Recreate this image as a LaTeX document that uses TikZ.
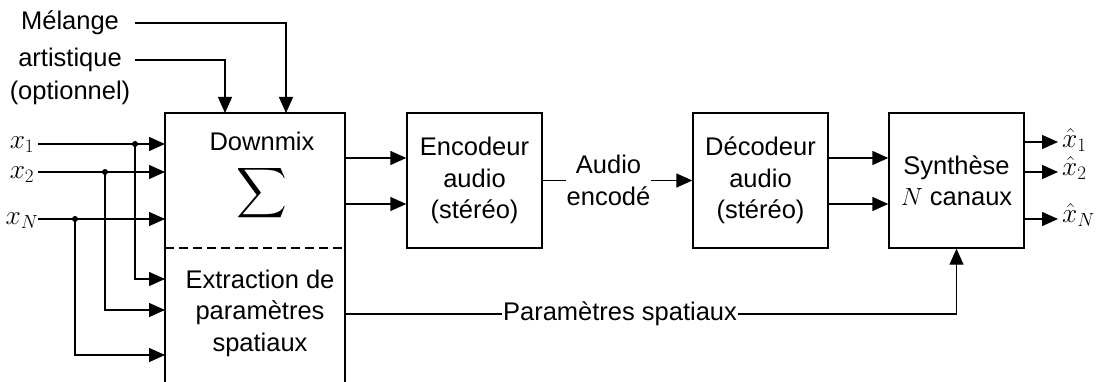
\documentclass[tikz,border=0pt]{standalone}
\usepackage{graphicx}
\usepackage{fontspec}
\setmainfont{Liberation Sans}
\usetikzlibrary{arrows.meta}
\begin{document}
\begin{tikzpicture}[x=1pt,y=-1pt,
  every node/.style={font=\fontsize{25.5}{31.5}\selectfont, inner sep=0pt},
  line/.style={line width=1.4pt},
  arr/.style={line width=1.4pt, -{Triangle[length=16pt,width=14pt]}},
  blk/.style={draw, line width=1.4pt, minimum width=135pt, minimum height=135pt, align=center},
  dot/.style={circle, fill, inner sep=0pt, minimum size=6pt},
  lbl/.style={fill=white, align=center, inner sep=1pt}]
\useasboundingbox (0,0) rectangle (1110,382);
% main box (bottom cut by the picture edge)
\draw[line] (165,382) -- (165,113) -- (345,113) -- (345,382);
\draw[line, dashed, dash pattern=on 9pt off 5pt] (165,248) -- (345,248);
\node (dm) at (262,141) {Downmix};
\node (sig) at (262,193) {\resizebox{!}{50pt}{$\displaystyle\sum$}};
\node[align=center] (ext) at (260,313) {Extraction de\\paramètres\\spatiaux};
% artistic mix
\node (mel) at (70,23) {Mélange};
\node (art) at (70,60) {artistique};
\node (opt) at (70,93) {(optionnel)};
\coordinate (m0) at (135,23);
\coordinate (a0) at (135,60);
\coordinate (mtop) at (286,113);
\coordinate (atop) at (225,113);
\draw[arr] (m0) -| (mtop);
\draw[arr] (a0) -| (atop);
% inputs
\node (x1) at (22,145) {\scalebox{1.1}{$x_1$}};
\node (x2) at (22,175) {\scalebox{1.1}{$x_2$}};
\node (xN) at (22,221) {\scalebox{1.1}{$x_N$}};
\coordinate (s1) at (38,144);
\coordinate (s2) at (38,172);
\coordinate (sN) at (38,219);
\coordinate (e1) at (165,144);
\coordinate (e2) at (165,172);
\coordinate (eN) at (165,219);
\coordinate (f1) at (165,279);
\coordinate (f2) at (165,310);
\coordinate (fN) at (165,355);
\node[dot] (d1) at (135,144) {};
\node[dot] (d2) at (105,172) {};
\node[dot] (dN) at (75,219) {};
\draw[arr] (s1) -- (e1);
\draw[arr] (s2) -- (e2);
\draw[arr] (sN) -- (eN);
\draw[arr] (d1.center) |- (f1);
\draw[arr] (d2.center) |- (f2);
\draw[arr] (dN.center) |- (fN);
% blocks
\node[blk] (enc) at (474.5,180.5) {Encodeur\\audio\\(stéréo)};
\node[blk] (dec) at (760.5,180.5) {Décodeur\\audio\\(stéréo)};
\node[blk] (syn) at (956.5,180.5) {Synthèse\\$N$ canaux};
% main -> encoder
\coordinate (o1) at (345,158);
\coordinate (o2) at (345,204);
\draw[arr] (o1) -- (o1 -| enc.west);
\draw[arr] (o2) -- (o2 -| enc.west);
% encoder -> decoder
\draw[arr] (enc.east) -- node[lbl, pos=0.44] (ae) {Audio\\encodé} (dec.west);
% decoder -> synthesis
\coordinate (p1) at (828,158);
\coordinate (p2) at (828,204);
\draw[arr] (p1) -- (p1 -| syn.west);
\draw[arr] (p2) -- (p2 -| syn.west);
% outputs
\node[anchor=west] (y1) at (1062,140) {\scalebox{1.1}{$\hat{x}_1$}};
\node[anchor=west] (y2) at (1062,168) {\scalebox{1.1}{$\hat{x}_2$}};
\node[anchor=west] (yN) at (1062,215) {\scalebox{1.1}{$\hat{x}_N$}};
\coordinate (q1) at (1024,142);
\coordinate (q2) at (1024,172);
\coordinate (qN) at (1024,219);
\draw[arr] (q1) -- (1058,142);
\draw[arr] (q2) -- (1058,172);
\draw[arr] (qN) -- (1058,219);
% spatial parameters
\coordinate (ps) at (345,314);
\coordinate (pc) at (956.5,314);
\draw[line] (ps) -- (pc);
\draw[arr] (pc) -- (syn.south);
\node[lbl] (pst) at (620,314) {Paramètres spatiaux};
\end{tikzpicture}
\end{document}
